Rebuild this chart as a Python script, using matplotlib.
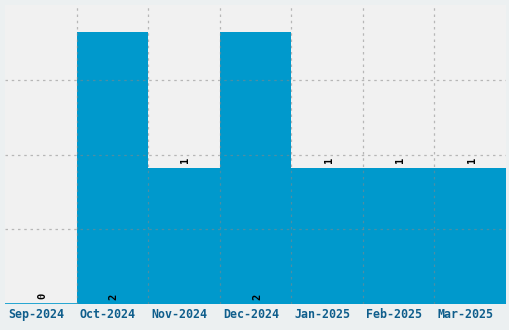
import numpy as np
import matplotlib
matplotlib.use('Agg')
import matplotlib.pyplot as plt
import matplotlib.transforms as mtransforms

months = ['Sep-2024', 'Oct-2024', 'Nov-2024', 'Dec-2024', 'Jan-2025', 'Feb-2025', 'Mar-2025']
counts = [0, 2, 1, 2, 1, 1, 1]

bar_color = '#0099cc'
fig = plt.figure(figsize=(5.1, 3.3), dpi=100, facecolor='#ecf0f1')
ax = fig.add_axes([5/510, 26/330, 501/510, 299/330])
ax.set_facecolor('#f1f1f1')

x = np.arange(len(months))
ax.bar(x, counts, width=1.0, color=bar_color, edgecolor='none', zorder=1)
# zero bar shows as a thin line on the baseline
ax.hlines(0, -0.5, 0.5, color=bar_color, lw=1.2, zorder=2)

ax.set_xlim(-0.5, len(months) - 0.5)
ax.set_ylim(0, 2.2)

# grid on category boundaries and quarter heights, drawn over bars
for b in np.arange(0.5, len(months) - 0.5, 1.0):
    ax.axvline(b, color='#888888', alpha=0.55, lw=0.9, ls=(0, (2, 3)), zorder=3)
for g in [0.55, 1.1, 1.65]:
    ax.axhline(g, color='#888888', alpha=0.55, lw=0.9, ls=(0, (2, 3)), zorder=3)

for xi, v in zip(x, counts):
    if v >= 2:
        y = 0.03
    else:
        y = v + 0.04
    ax.text(xi + 0.02, y, str(v), rotation=90, ha='center', va='bottom',
            fontsize=7.5, fontweight='bold', family='DejaVu Sans Mono',
            color='black', zorder=4)

ax.set_xticks(x)
ax.set_xticklabels(months, family='DejaVu Sans Mono', fontweight='bold',
                   fontsize=8.4, color='#0f5e8c')
ax.tick_params(axis='x', length=0, pad=3)
shift = mtransforms.ScaledTranslation(-4.5/100, 0, fig.dpi_scale_trans)
for lbl in ax.get_xticklabels():
    lbl.set_transform(lbl.get_transform() + shift)
ax.set_yticks([])
for s in ax.spines.values():
    s.set_visible(False)

fig.savefig('out.png', dpi=100, facecolor=fig.get_facecolor())
